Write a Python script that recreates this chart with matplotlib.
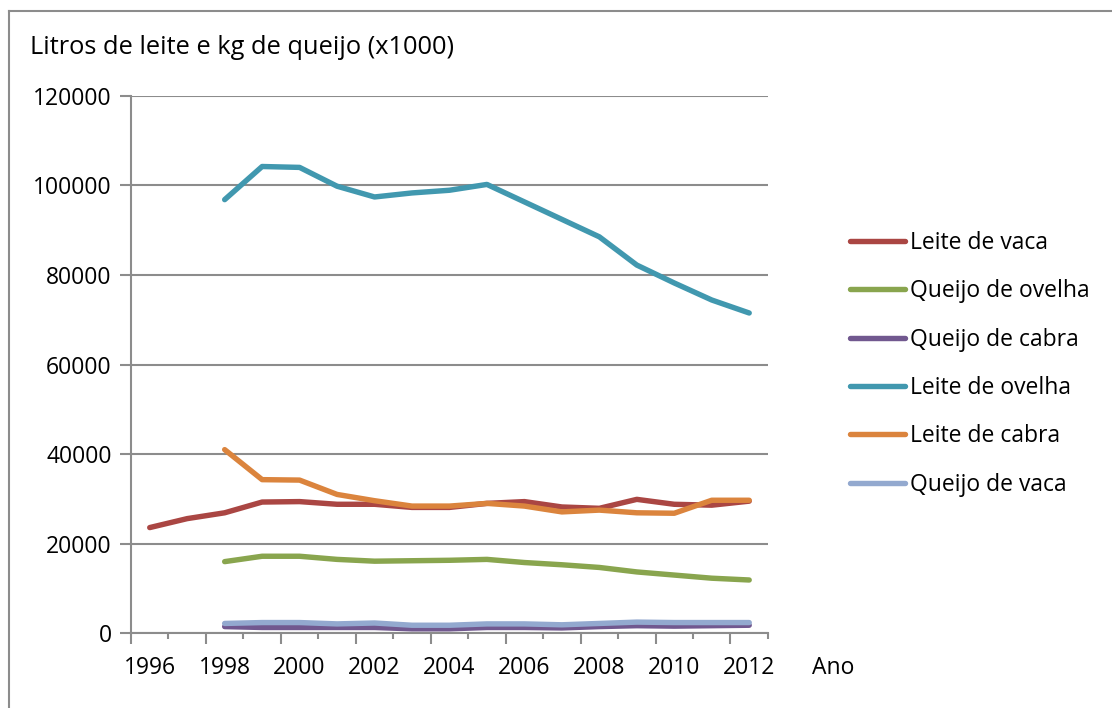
import matplotlib.pyplot as plt
import numpy as np
from matplotlib.lines import Line2D

nan = np.nan

years = np.arange(1996, 2013)
label_years = years[::2]

leite_vaca = [23.6, 25.6, 26.9, 29.3, 29.4, 28.8, 28.8, 28.1, 28.1, 29.0,
              29.4, 28.2, 27.9, 29.9, 28.8, 28.6, 29.5]
queijo_ovelha = [nan, nan, 16.0, 17.2, 17.2, 16.5, 16.1, 16.2, 16.3, 16.5,
                 15.8, 15.3, 14.7, 13.7, 13.0, 12.3, 11.9]
queijo_cabra = [nan, nan, 1.5, 1.3, 1.3, 1.3, 1.3, 1.0, 1.0, 1.3,
                1.3, 1.2, 1.5, 1.7, 1.6, 1.7, 1.8]
leite_ovelha = [nan, nan, 96.8, 104.2, 104.0, 99.8, 97.4, 98.3, 98.9, 100.2,
                96.3, 92.4, 88.5, 82.2, 78.2, 74.4, 71.5]
leite_cabra = [nan, nan, 41.0, 34.3, 34.2, 31.0, 29.6, 28.4, 28.4, 29.0,
               28.4, 27.1, 27.5, 26.9, 26.8, 29.7, 29.7]
queijo_vaca = [nan, nan, 2.2, 2.4, 2.4, 2.1, 2.3, 1.8, 1.8, 2.1,
               2.1, 1.9, 2.2, 2.5, 2.4, 2.4, 2.4]

series = [
    ("Leite de vaca", leite_vaca, "#AA4643"),
    ("Queijo de ovelha", queijo_ovelha, "#89A54E"),
    ("Queijo de cabra", queijo_cabra, "#71588F"),
    ("Leite de ovelha", leite_ovelha, "#4198AF"),
    ("Leite de cabra", leite_cabra, "#DB843D"),
    ("Queijo de vaca", queijo_vaca, "#93A9CF"),
]

plt.rcParams["font.family"] = ["Open Sans", "DejaVu Sans"]
GRAY = "#8C8C8C"
FS = 16.5


def build_chart() -> None:
    fig = plt.figure(figsize=(11.12, 7.08), dpi=100)
    ax = fig.add_axes([0.1178, 0.1055, 0.5728, 0.7593])

    for name, vals, color in series:
        ax.plot(years, np.array(vals) * 1000, color=color, lw=3.9, label=name,
                solid_capstyle="round", solid_joinstyle="round")

    ax.set_xlim(years[0] - 0.5, years[-1] + 0.5)
    ax.set_ylim(0, 120000)
    ax.set_yticks(np.arange(0, 120001, 20000))
    ax.yaxis.grid(True, color=GRAY, lw=1.5)
    ax.set_axisbelow(True)

    # category boundaries: long ticks every 2 years, short in between
    bounds = np.arange(years[0] - 0.5, years[-1] + 1.0, 1.0)
    ax.set_xticks(bounds[::2])
    ax.set_xticks(bounds[1::2], minor=True)
    ax.tick_params(axis="x", which="major", length=8, width=1.5, color=GRAY,
                   labelbottom=False)
    ax.tick_params(axis="x", which="minor", length=4, width=1.5, color=GRAY)
    ax.tick_params(axis="y", length=8, width=1.5, color=GRAY, labelsize=FS,
                   pad=6)

    sec = ax.secondary_xaxis("bottom")
    sec.set_xticks(label_years)
    sec.set_xticklabels([str(y) for y in label_years], fontsize=FS)
    sec.tick_params(length=0, pad=16)
    sec.spines["bottom"].set_visible(False)

    for side in ["top", "right"]:
        ax.spines[side].set_visible(False)
    for side in ["left", "bottom"]:
        ax.spines[side].set_color(GRAY)
        ax.spines[side].set_linewidth(1.5)

    fig.text(0.027, 0.933, "Litros de leite e kg de queijo (x1000)",
             fontsize=18.3, va="center", ha="left")
    fig.text(0.730, 0.057, "Ano", fontsize=FS, va="center", ha="left")

    ax.legend(loc="center left", bbox_to_anchor=(0.764, 0.486),
              bbox_transform=fig.transFigure, frameon=False, fontsize=FS,
              handlelength=2.4, handletextpad=0.22, labelspacing=1.06,
              borderpad=0, borderaxespad=0)

    # outer chart border (left and top visible)
    fig.add_artist(Line2D([0.008, 0.008], [0.0, 0.985], color=GRAY, lw=1.5,
                          transform=fig.transFigure))
    fig.add_artist(Line2D([0.008, 1.0], [0.985, 0.985], color=GRAY, lw=1.5,
                          transform=fig.transFigure))

    fig.savefig("out.png", dpi=100)


def main() -> None:
    build_chart()


if __name__ == "__main__":
    main()
